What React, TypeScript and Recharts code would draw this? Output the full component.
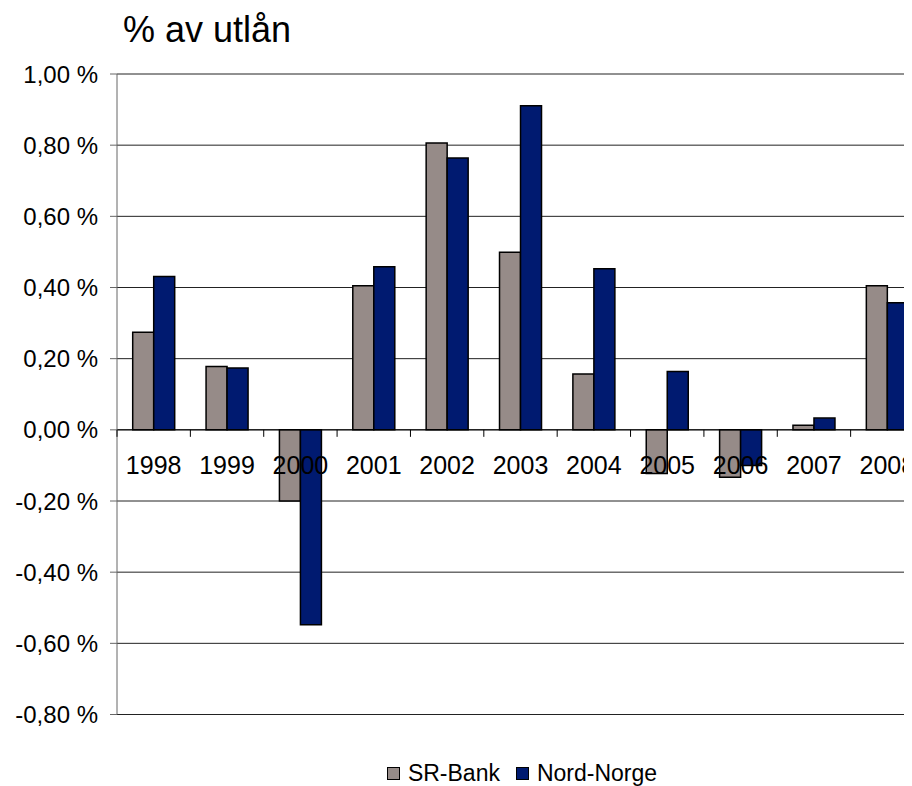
import { ComposedChart, Bar, Line, XAxis, YAxis, CartesianGrid, ReferenceLine, Legend } from "recharts";

const years = ["1998", "1999", "2000", "2001", "2002", "2003", "2004", "2005", "2006", "2007", "2008"];
const srBank = [0.274, 0.178, -0.2, 0.405, 0.806, 0.499, 0.157, -0.123, -0.133, 0.013, 0.405];
const nordNorge = [0.431, 0.174, -0.548, 0.458, 0.764, 0.911, 0.453, 0.164, -0.1, 0.033, 0.357];
const yTicks = [-0.8, -0.6, -0.4, -0.2, 0, 0.2, 0.4, 0.6, 0.8, 1.0];

const data = years.map((year, i) => ({
  year,
  sr: srBank[i],
  nn: nordNorge[i],
  zero: 0,
}));

const FONT = '"Liberation Sans", Arial, sans-serif';
const GREY = "#968b88";
const NAVY = "#001a70";
const PLOT_LEFT = 109;

const fmt = (v: number) => v.toFixed(2).replace(".", ",") + " %";

// category labels + boundary ticks drawn at the zero line
function YearLabel(props: any) {
  const { cx, cy, index, payload } = props;
  if (cx == null || cy == null) return null;
  const w = (cx - PLOT_LEFT) / (index + 0.5);
  const left = cx - w / 2;
  const right = cx + w / 2;
  return (
    <g key={"lbl" + index}>
      <line x1={left} x2={left} y1={cy} y2={cy + 7} stroke="#000" strokeWidth={1} />
      {index === years.length - 1 && (
        <line x1={right} x2={right} y1={cy} y2={cy + 7} stroke="#000" strokeWidth={1} />
      )}
      <text x={cx} y={cy + 35} textAnchor="middle" dominantBaseline="central" fontSize={25} fontFamily={FONT} fill="#000">
        {payload.year}
      </text>
    </g>
  );
}

function LegendContent() {
  const items = [
    { name: "SR-Bank", color: GREY },
    { name: "Nord-Norge", color: NAVY },
  ];
  return (
    <div style={{ display: "flex", justifyContent: "center", alignItems: "center", height: 24, fontFamily: FONT, fontSize: 23 }}>
      {items.map((it, i) => (
        <div key={it.name} style={{ display: "flex", alignItems: "center", marginLeft: i ? 16 : 0 }}>
          <span style={{ width: 11, height: 11, background: it.color, border: "1px solid #000", marginRight: 8 }} />
          <span style={{ lineHeight: "24px" }}>{it.name}</span>
        </div>
      ))}
    </div>
  );
}

export default function App() {
  return (
    <div style={{ position: "relative", width: 904, height: 778, overflowX: "hidden", overflowY: "visible", fontFamily: FONT }}>
      <div style={{ position: "absolute", left: 115, top: 4, fontSize: 36, lineHeight: "36px", color: "#000", whiteSpace: "nowrap" }}>
        % av utlån
      </div>
      <ComposedChart
        width={920}
        height={778}
        data={data}
        margin={{ top: 66, right: 4, left: 0, bottom: 47.5 }}
        barCategoryGap="21.4%"
        barGap={0}
      >
        <CartesianGrid vertical={false} stroke="#222" strokeWidth={1} />
        <XAxis dataKey="year" hide />
        <YAxis
          domain={[-0.8, 1.0]}
          ticks={yTicks}
          tickFormatter={fmt}
          width={109}
          tickSize={7}
          tickMargin={12}
          stroke="#666"
          tick={{ fill: "#000", fontSize: 24, fontFamily: FONT }}
          interval={0}
          allowDataOverflow
        />
        <ReferenceLine y={0} stroke="#000" strokeWidth={1} />
        <Bar dataKey="sr" name="SR-Bank" fill={GREY} stroke="#000" strokeWidth={1.5} isAnimationActive={false} />
        <Bar dataKey="nn" name="Nord-Norge" fill={NAVY} stroke="#000" strokeWidth={1.5} isAnimationActive={false} />
        <Line
          dataKey="zero"
          stroke="none"
          dot={YearLabel}
          activeDot={false}
          legendType="none"
          isAnimationActive={false}
        />
        <Legend verticalAlign="bottom" content={<LegendContent />} wrapperStyle={{ bottom: 1, left: 112, width: 804 }} />
      </ComposedChart>
    </div>
  );
}
